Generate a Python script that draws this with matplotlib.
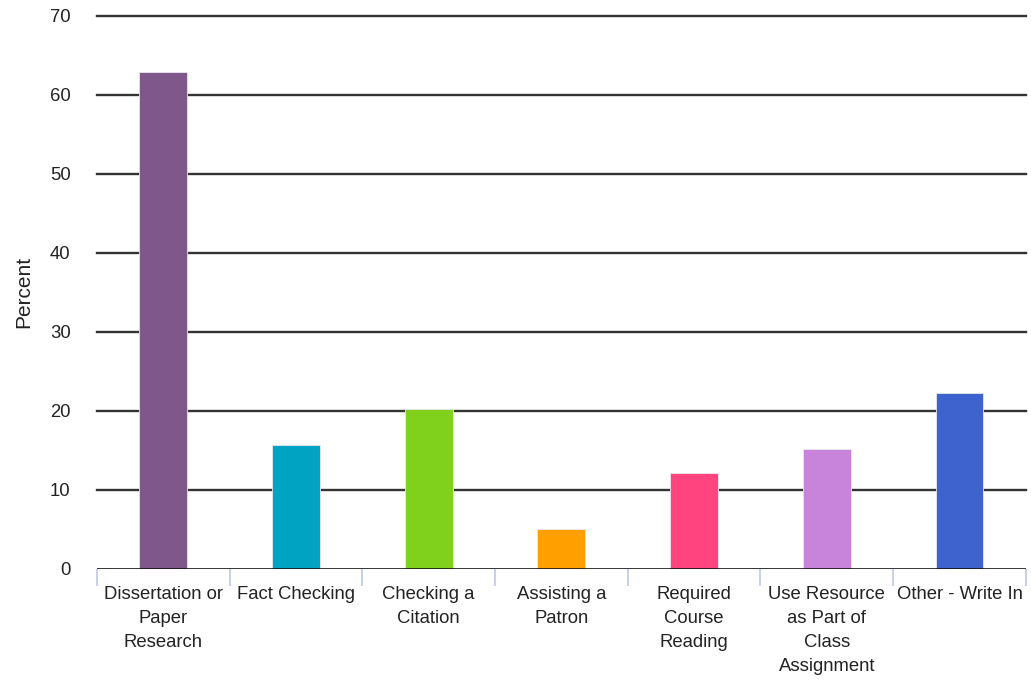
import numpy as np
import matplotlib.pyplot as plt

plt.rcParams['font.family'] = ['Liberation Sans', 'DejaVu Sans']

# Survey: reasons for using the resource
categories = ["Dissertation or\nPaper\nResearch", "Fact Checking", "Checking a\nCitation",
              "Assisting a\nPatron", "Required\nCourse\nReading",
              "Use Resource\nas Part of\nClass\nAssignment", "Other - Write In"]
percent = [62.9, 15.7, 20.2, 5.1, 12.2, 15.2, 22.3]
colors = ["#80578b", "#00a4c3", "#7fd11b", "#ffa000", "#ff4480", "#c883db", "#3e62ce"]
yticks = [0, 10, 20, 30, 40, 50, 60, 70]

fig = plt.figure(figsize=(10.31, 6.83), dpi=100)
ax = fig.add_axes([0.094, 0.167, 0.901, 0.81])

x = np.arange(len(categories))
ax.bar(x, percent, width=0.36, color=colors, edgecolor="#e8e8f0", linewidth=0.6, zorder=3)

ax.set_xlim(-0.5, len(categories) - 0.5)
ax.set_ylim(0, 70)
ax.set_yticks(yticks)
ax.set_xticks(x)
ax.set_xticklabels(categories, fontsize=13.3, color="#222222", linespacing=1.55, va="top")
ax.tick_params(axis="y", length=0, pad=19, labelsize=13.3, labelcolor="#222222")
ax.tick_params(axis="x", which="major", length=0, pad=12)

# light separators between categories
ax.set_xticks(np.arange(len(categories) + 1) - 0.5, minor=True)
ax.tick_params(axis="x", which="minor", length=12, width=1.5, color="#c9d1ea")

for v in yticks[1:]:
    ax.axhline(v, color="#333333", linewidth=1.7, zorder=1, clip_on=False)
ax.axhline(0, color="#111111", linewidth=1.9, zorder=4)

for s in ax.spines.values():
    s.set_visible(False)

ax.set_ylabel("Percent", fontsize=15, color="#222222", labelpad=12)

fig.savefig("out.png", dpi=100)
